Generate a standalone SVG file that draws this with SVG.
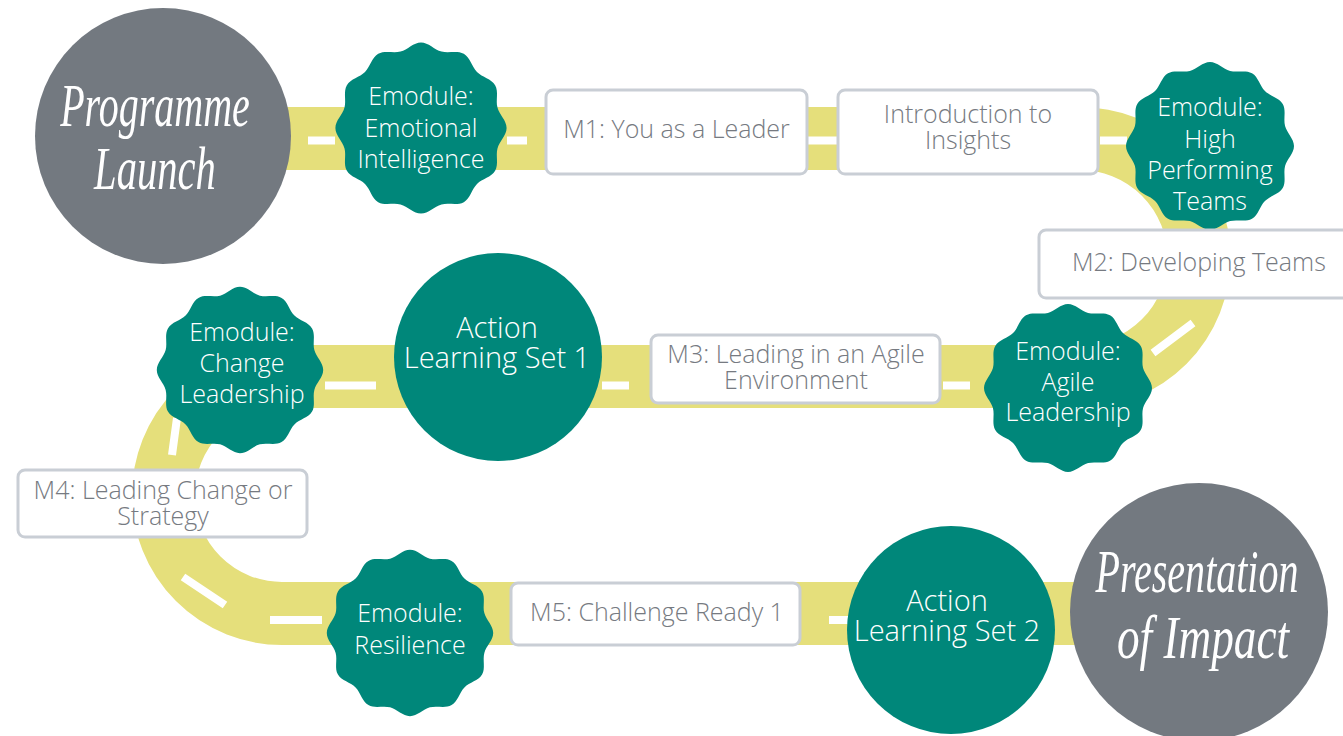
<svg xmlns="http://www.w3.org/2000/svg" xmlns:xlink="http://www.w3.org/1999/xlink" width="1343" height="736" viewBox="0 0 1343 736">
<style>
.road{fill:none;stroke:#E5DF7B;stroke-width:63;stroke-linecap:butt}
.dash{fill:none;stroke:#FFFFFF;stroke-width:8;stroke-linecap:butt}
.box{fill:#FFFFFF;stroke:#C9CED5;stroke-width:3}
.bt{font-family:"Open Sans","Liberation Sans",sans-serif;font-weight:300;font-size:25px;fill:#767A81;text-anchor:middle}
.badge{fill:#00877A}
.wt{font-family:"Open Sans","Liberation Sans",sans-serif;font-weight:300;font-size:25px;fill:#FFFFFF;text-anchor:middle}
.alt{font-family:"Open Sans","Liberation Sans",sans-serif;font-weight:300;font-size:29px;fill:#FFFFFF;text-anchor:middle}
.grey{fill:#737980}
.teal{fill:#00877A}
.script{font-family:"Liberation Serif",serif;font-style:italic;font-size:58px;fill:#FFFFFF;text-anchor:middle}
</style>
<defs>
<path id="scallop" d="M80,0 C80,7 73.29,12.39 71.48,19.15 C69.67,25.91 72.78,33.94 69.28,40 C65.78,46.06 57.28,47.38 52.33,52.33 C47.38,57.28 46.06,65.78 40,69.28 C33.94,72.78 25.91,69.67 19.15,71.48 C12.39,73.29 7,80 0,80 C-7,80 -12.39,73.29 -19.15,71.48 C-25.91,69.67 -33.94,72.78 -40,69.28 C-46.06,65.78 -47.38,57.28 -52.33,52.33 C-57.28,47.38 -65.78,46.06 -69.28,40 C-72.78,33.94 -69.67,25.91 -71.48,19.15 C-73.29,12.39 -80,7 -80,0 C-80,-7 -73.29,-12.39 -71.48,-19.15 C-69.67,-25.91 -72.78,-33.94 -69.28,-40 C-65.78,-46.06 -57.28,-47.38 -52.33,-52.33 C-47.38,-57.28 -46.06,-65.78 -40,-69.28 C-33.94,-72.78 -25.91,-69.67 -19.15,-71.48 C-12.39,-73.29 -7,-80 0,-80 C7,-80 12.39,-73.29 19.15,-71.48 C25.91,-69.67 33.94,-72.78 40,-69.28 C46.06,-65.78 47.38,-57.28 52.33,-52.33 C57.28,-47.38 65.78,-46.06 69.28,-40 C72.78,-33.94 69.67,-25.91 71.48,-19.15 C73.29,-12.39 80,-7 80,0 Z"/>
</defs>
<rect x="0" y="0" width="1343" height="736" fill="#FFFFFF"/>
<g id="connectors">
<path class="road" d="M200,138.5 H1080 A119,119 0 0 1 1080,376.5 H282 A118.5,118.5 0 0 0 282,613.5 H1150"/>
<path class="dash" d="M308,140.5 H335 M507,140.5 H527 M808,140.5 H838 M1100,140.5 H1127 M325,385.5 H376 M602,385.5 H629 M943,385.5 H970 M270,620 H322 M829,620 H850 M1153,353 L1193,323 M172,455 L177,418 M183,577 L225,605"/>
</g>
<g id="programme-launch">
<circle class="grey" cx="163" cy="136" r="128"/>
<text class="script" transform="translate(155,126) scale(0.69,1.05)">Programme</text>
<text class="script" transform="translate(155,189) scale(0.7,1.05)">Launch</text>
</g>
<g id="emodule-ei">
<use xlink:href="#scallop" class="badge" transform="translate(421,128) scale(1.07)"/>
<text class="wt" x="421" y="105">Emodule:</text>
<text class="wt" x="421" y="137">Emotional</text>
<text class="wt" x="421" y="168">Intelligence</text>
</g>
<g id="m1">
<rect class="box" x="546" y="90" width="261" height="84" rx="7"/>
<text class="bt" x="676.5" y="138">M1: You as a Leader</text>
</g>
<g id="insights">
<rect class="box" x="838" y="90" width="260" height="84" rx="7"/>
<text class="bt" x="968" y="123">Introduction to</text>
<text class="bt" x="968" y="149">Insights</text>
</g>
<g id="emodule-hpt">
<use xlink:href="#scallop" class="badge" transform="translate(1210,146) scale(1.05)"/>
<text class="wt" x="1210" y="116">Emodule:</text>
<text class="wt" x="1210" y="148">High</text>
<text class="wt" x="1210" y="179">Performing</text>
<text class="wt" x="1210" y="210">Teams</text>
</g>
<g id="m2">
<rect class="box" x="1039" y="230" width="320" height="68" rx="7"/>
<text class="bt" x="1072" y="271" style="text-anchor:start">M2: Developing Teams</text>
</g>
<g id="emodule-agile">
<use xlink:href="#scallop" class="badge" transform="translate(1068,388) scale(1.05)"/>
<text class="wt" x="1068" y="360">Emodule:</text>
<text class="wt" x="1068" y="391">Agile</text>
<text class="wt" x="1068" y="421">Leadership</text>
</g>
<g id="m3">
<rect class="box" x="651" y="335" width="289" height="68" rx="7"/>
<text class="bt" x="796" y="363">M3: Leading in an Agile</text>
<text class="bt" x="796" y="389">Environment</text>
</g>
<g id="als1">
<circle class="teal" cx="498" cy="357" r="104"/>
<text class="alt" x="497" y="338">Action</text>
<text class="alt" x="497" y="368">Learning Set 1</text>
</g>
<g id="emodule-change">
<use xlink:href="#scallop" class="badge" transform="translate(240,370) scale(1.04)"/>
<text class="wt" x="242" y="341">Emodule:</text>
<text class="wt" x="242" y="372">Change</text>
<text class="wt" x="242" y="403">Leadership</text>
</g>
<g id="m4">
<rect class="box" x="18" y="470" width="289" height="67" rx="7"/>
<text class="bt" x="163" y="499">M4: Leading Change or</text>
<text class="bt" x="163" y="525">Strategy</text>
</g>
<g id="emodule-resilience">
<use xlink:href="#scallop" class="badge" transform="translate(410,633) scale(1.04)"/>
<text class="wt" x="410" y="622">Emodule:</text>
<text class="wt" x="410" y="654">Resilience</text>
</g>
<g id="m5">
<rect class="box" x="511" y="583" width="289" height="62" rx="7"/>
<text class="bt" x="657" y="621">M5: Challenge Ready 1</text>
</g>
<g id="als2">
<circle class="teal" cx="951" cy="630" r="104"/>
<text class="alt" x="947" y="611">Action</text>
<text class="alt" x="947" y="641">Learning Set 2</text>
</g>
<g id="presentation-of-impact">
<circle class="grey" cx="1199" cy="612" r="129"/>
<text class="script" transform="translate(1197,592) scale(0.69,1.05)">Presentation</text>
<text class="script" transform="translate(1203,658) scale(0.78,1.05)">of Impact</text>
</g>
</svg>
